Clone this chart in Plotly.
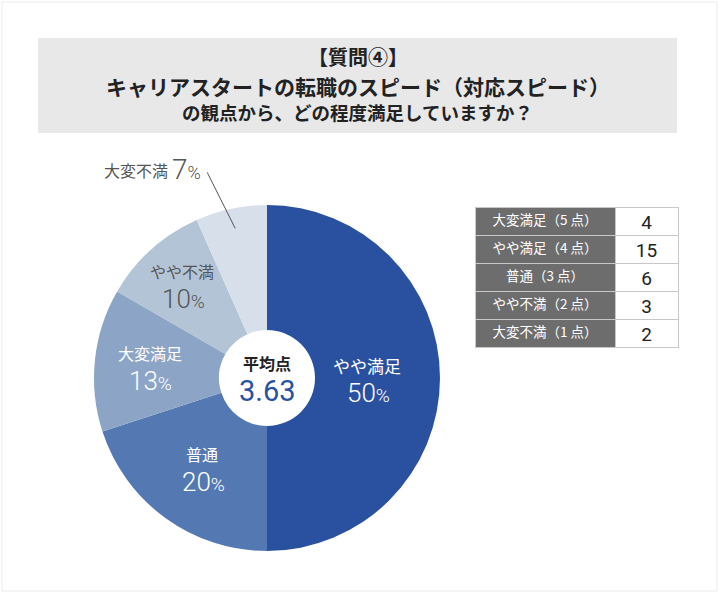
import math
import plotly.graph_objects as go

# ---- data ----
categories = ["大変満足", "やや満足", "普通", "やや不満", "大変不満"]
points = [5, 4, 3, 2, 1]
counts = [4, 15, 6, 3, 2]
pie_order = ["やや満足", "普通", "大変満足", "やや不満", "大変不満"]
average_score = "3.63"
title_lines = ["【質問④】", "キャリアスタートの転職のスピード（対応スピード）", "の観点から、どの程度満足していますか？"]
table_labels = [f"{c}（{p} 点）" for c, p in zip(categories, points)]

# ---- styles ----
W, H = 720, 595
colors = {"やや満足": "#2a51a0", "普通": "#5479b2", "大変満足": "#8ca5c6",
          "やや不満": "#b4c4d7", "大変不満": "#d7e0ea"}
label_color = {"やや満足": "white", "普通": "white", "大変満足": "white",
               "やや不満": "#555555", "大変不満": "#555555"}
label_r = {"やや満足": 100, "普通": 110, "大変満足": 118, "やや不満": 127}
label_fs = {"やや満足": 17, "普通": 16, "大変満足": 16, "やや不満": 16}
CX, CY, R = 267, 378, 173   # pie centre / radius in px
HOLE = 48
JP = "Noto Sans CJK JP"
NUM = "Roboto"

pie_vals = [counts[categories.index(c)] for c in pie_order]
total = sum(pie_vals)

def px(x):
    return x / W

def py(y):
    return 1 - y / H

fig = go.Figure()
fig.add_trace(go.Pie(
    labels=pie_order, values=pie_vals, sort=False, direction="clockwise", rotation=0,
    hole=HOLE / R, textinfo="none", hoverinfo="label+percent",
    marker=dict(colors=[colors[c] for c in pie_order], line=dict(width=0)),
    domain=dict(x=[px(CX - R), px(CX + R)], y=[py(CY + R), py(CY - R)]),
    showlegend=False,
))

annotations = []
shapes = []

# title box
shapes.append(dict(type="rect", xref="paper", yref="paper", x0=px(38), x1=px(677), y0=py(133), y1=py(38),
                   fillcolor="#e8e8e8", line=dict(width=0), layer="below"))
# outer frame
shapes.append(dict(type="rect", xref="paper", yref="paper", x0=px(2), x1=px(717), y0=py(591), y1=py(2),
                   fillcolor="rgba(0,0,0,0)", line=dict(width=1, color="#ebebeb")))

title_y = [57, 86, 112]
title_fs = [20, 21, 18.5]
for t, y, fs in zip(title_lines, title_y, title_fs):
    annotations.append(dict(text=f"<b>{t}</b>", x=px((38 + 677) / 2), y=py(y), xref="paper", yref="paper",
                            showarrow=False, font=dict(family=JP, size=fs, color="#222222"),
                            xanchor="center", yanchor="middle"))

def pct_text(p, big, small):
    return (f"<span style='font-size:{big}px'>{p}</span>"
            f"<span style='font-size:{small}px'>%</span>")

# slice labels
cum = 0
for c, v in zip(pie_order, pie_vals):
    mid = (cum + v / 2) / total * 2 * math.pi
    cum += v
    pct = round(v / total * 100)
    if c in label_r:
        r = label_r[c]
        x = CX + r * math.sin(mid)
        y = CY - r * math.cos(mid)
        annotations.append(dict(text=c, x=px(x), y=py(y - 13), xref="paper", yref="paper", showarrow=False,
                                font=dict(family=JP, size=label_fs[c], color=label_color[c]),
                                xanchor="center", yanchor="middle"))
        annotations.append(dict(text=pct_text(pct, 26, 19), x=px(x + 1), y=py(y + 15), xref="paper", yref="paper",
                                showarrow=False, font=dict(family=NUM, size=26, color=label_color[c], weight=300),
                                xanchor="center", yanchor="middle"))
    else:
        # outside label with leader line
        x0 = CX + 153 * math.sin(mid)
        y0 = CY - 153 * math.cos(mid)
        x1, y1 = x0 - 28, y0 - 56
        shapes.append(dict(type="line", xref="paper", yref="paper", x0=px(x0), y0=py(y0), x1=px(x1), y1=py(y1),
                           line=dict(color="#555555", width=1)))
        annotations.append(dict(text=pct_text(pct, 28, 18), x=px(x1 - 4), y=py(y1 - 3), xref="paper", yref="paper",
                                showarrow=False, font=dict(family=NUM, size=28, color="#555555", weight=300),
                                xanchor="right", yanchor="middle"))
        annotations.append(dict(text=c, x=px(x1 - 37), y=py(y1 - 2), xref="paper", yref="paper",
                                showarrow=False, font=dict(family=JP, size=16, color="#555555"),
                                xanchor="right", yanchor="middle"))

# centre text
annotations.append(dict(text="<b>平均点</b>", x=px(CX), y=py(363), xref="paper", yref="paper", showarrow=False,
                        font=dict(family=JP, size=16, color="#222222"), xanchor="center", yanchor="middle"))
annotations.append(dict(text=average_score, x=px(CX), y=py(391), xref="paper", yref="paper", showarrow=False,
                        font=dict(family=NUM, size=29, color="#2a51a0"), xanchor="center", yanchor="middle"))

# table
fig.add_trace(go.Table(
    domain=dict(x=[px(475), px(678)], y=[py(350), py(207)]),
    columnwidth=[140, 63],
    header=dict(values=[table_labels[0], str(counts[0])], height=28,
                fill=dict(color=["#6d6d6d", "white"]),
                line=dict(color="#c8c8c8", width=1), align="center",
                font=dict(family=[JP, NUM], size=[13.5, 19], color=["white", "#222222"])),
    cells=dict(values=[table_labels[1:], [str(v) for v in counts[1:]]], height=28,
               fill=dict(color=["#6d6d6d", "white"]),
               line=dict(color="#c8c8c8", width=1), align="center",
               font=dict(family=[JP, NUM], size=[13.5, 19], color=["white", "#222222"])),
))

fig.update_layout(width=W, height=H, margin=dict(l=0, r=0, t=0, b=0),
                  paper_bgcolor="white", plot_bgcolor="white",
                  annotations=annotations, shapes=shapes)
fig.write_html("out.html")
